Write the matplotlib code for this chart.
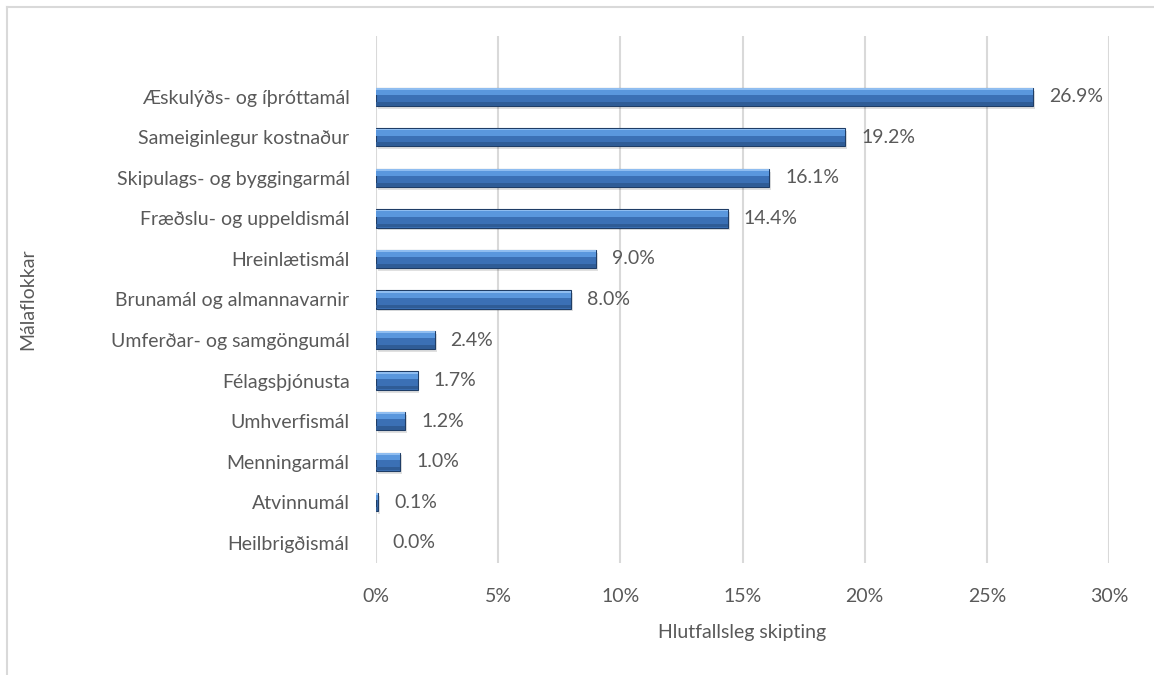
import matplotlib.pyplot as plt
import numpy as np
from matplotlib.lines import Line2D
from matplotlib.ticker import FuncFormatter

# gögn lesin af myndinni
flokkar = ['Æskulýðs- og íþróttamál', 'Sameiginlegur kostnaður', 'Skipulags- og byggingarmál',
           'Fræðslu- og uppeldismál', 'Hreinlætismál', 'Brunamál og almannavarnir',
           'Umferðar- og samgöngumál', 'Félagsþjónusta', 'Umhverfismál', 'Menningarmál',
           'Atvinnumál', 'Heilbrigðismál']
hlutfall = [26.9, 19.2, 16.1, 14.4, 9.0, 8.0, 2.4, 1.7, 1.2, 1.0, 0.1, 0.0]
xticks = [0, 5, 10, 15, 20, 25, 30]

plt.rcParams['font.family'] = ['Lato', 'DejaVu Sans']
textalitur = '#595959'
fs = 14

fig = plt.figure(figsize=(11.54, 6.75), dpi=100)
ax = fig.add_axes([376 / 1154, 0.1659, 733 / 1154, 0.7808])

y = np.arange(len(flokkar)) + 1  # efsta sætið er autt
h = 0.45
brun = [0.8 if v > 0 else 0 for v in hlutfall]

# skuggi, grunnur, ljós efri hluti, ljós brún, dökkur neðri hluti
ax.barh(y + 0.07, hlutfall, height=h, left=0.08, color='#000000', alpha=0.12, zorder=2)
ax.barh(y, hlutfall, height=h, color='#3b70b5', edgecolor='#1f3d66', linewidth=brun, zorder=3)
ax.barh(y - h / 2 + 0.22 * h, hlutfall, height=0.36 * h, color='#5a97dd', linewidth=0, zorder=4)
ax.barh(y - h / 2 + 0.07 * h, hlutfall, height=0.1 * h, color='#8fbdf0', linewidth=0, zorder=5)
ax.barh(y + h / 2 - 0.12 * h, hlutfall, height=0.2 * h, color='#2f5c96', linewidth=0, zorder=4)

for yi, v in zip(y, hlutfall):
    ax.text(v + 0.65, yi, f'{v:.1f}%', va='center', ha='left', fontsize=fs, color=textalitur)

ax.set_xlim(0, 30)
ax.set_ylim(12.5, -0.5)
ax.set_xticks(xticks)
ax.xaxis.set_major_formatter(FuncFormatter(lambda v, p: f'{v:.0f}%'))
ax.set_yticks(y)
ax.set_yticklabels(flokkar)
ax.tick_params(axis='both', length=0, labelsize=fs, colors=textalitur)
ax.tick_params(axis='y', pad=19)
ax.tick_params(axis='x', pad=18)
ax.grid(axis='x', color='#d9d9d9', linewidth=1.5, zorder=0)
ax.set_axisbelow(True)
for s in ax.spines.values():
    s.set_visible(False)

ax.set_xlabel('Hlutfallsleg skipting', fontsize=fs, color=textalitur, labelpad=14)
ax.set_ylabel('Málaflokkar', fontsize=fs, color=textalitur)
ax.yaxis.set_label_coords(-0.464, 0.5)

# rammi utan um myndina (sést bara efst og til vinstri)
fig.add_artist(Line2D([7 / 1154, 7 / 1154], [0, 1 - 7 / 675], color='#d9d9d9', linewidth=1.5))
fig.add_artist(Line2D([7 / 1154, 1], [1 - 7 / 675, 1 - 7 / 675], color='#d9d9d9', linewidth=1.5))

fig.savefig('out.png', dpi=100)
